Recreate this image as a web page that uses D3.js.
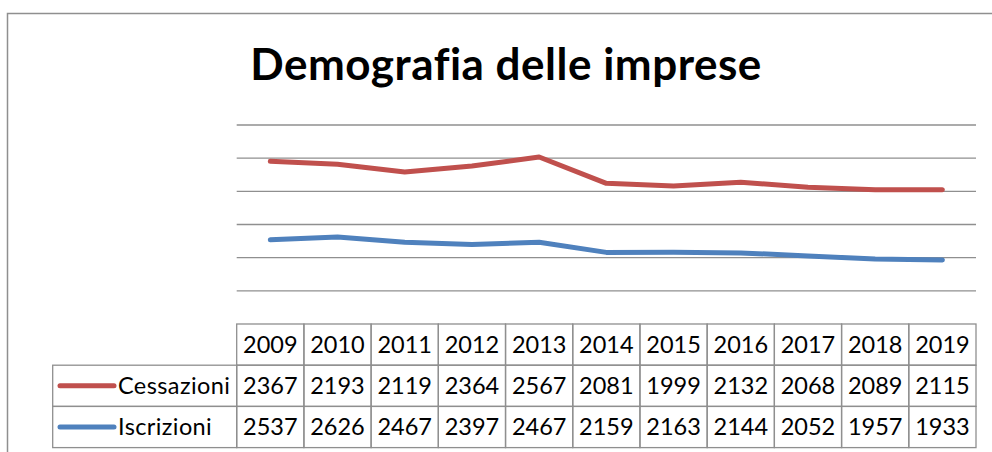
<!DOCTYPE html>
<meta charset="utf-8">
<style>
body { margin: 0; background: #fff; }
text { font-family: Lato, "Open Sans", sans-serif; fill: #000; font-variant-ligatures: none; }
</style>
<body>
<script src="https://cdnjs.cloudflare.com/ajax/libs/d3/7.8.5/d3.min.js"></script>
<script>

var years = ["2009", "2010", "2011", "2012", "2013", "2014", "2015", "2016", "2017", "2018", "2019"];
var cessazioni = [2367, 2193, 2119, 2364, 2567, 2081, 1999, 2132, 2068, 2089, 2115];
var iscrizioni = [2537, 2626, 2467, 2397, 2467, 2159, 2163, 2144, 2052, 1957, 1933];
var yTicks = [0, 1000, 2000, 3000, 4000, 5000, 6000];

var width = 992, height = 452;
var gridColor = "#8f8f8f";
var red = "#c0504d", blue = "#4f81bd";

var svg = d3.select("body").append("svg")
    .attr("width", width)
    .attr("height", height);

// chart frame (only top and left edges show in the picture)
svg.append("path")
    .attr("d", "M7.5,452V13.5H992")
    .attr("fill", "none")
    .attr("stroke", gridColor)
    .attr("stroke-width", 1.5);

// title
svg.append("text")
    .attr("x", 506)
    .attr("y", 80)
    .attr("text-anchor", "middle")
    .style("font-weight", "bold")
    .style("font-size", "44px")
    .style("letter-spacing", "0.5px")
    .text("Demografia delle imprese");

// scales
var x = d3.scaleBand()
    .domain(years)
    .range([236.7, 976]);
var y = d3.scaleLinear()
    .domain([0, 6000])
    .range([324, 125]);

// gridlines
svg.append("g")
  .selectAll("line")
    .data(yTicks.slice(1))
  .enter().append("line")
    .attr("x1", x.range()[0])
    .attr("x2", x.range()[1])
    .attr("y1", function(d) { return y(d); })
    .attr("y2", function(d) { return y(d); })
    .attr("stroke", gridColor)
    .attr("stroke-width", 1.4);

// stacked lines: Iscrizioni at the bottom, Cessazioni on top
var rows = years.map(function(yr, i) {
  return { year: yr, Iscrizioni: iscrizioni[i], Cessazioni: cessazioni[i] };
});
var stack = d3.stack().keys(["Iscrizioni", "Cessazioni"]);
var layers = stack(rows);
var colors = { Iscrizioni: blue, Cessazioni: red };

var line = d3.line()
    .x(function(d) { return x(d.data.year) + x.bandwidth() / 2; })
    .y(function(d) { return y(d[1]); });

svg.append("g")
  .selectAll("path")
    .data(layers)
  .enter().append("path")
    .attr("d", line)
    .attr("fill", "none")
    .attr("stroke", function(d) { return colors[d.key]; })
    .attr("stroke-width", 5)
    .attr("stroke-linecap", "round")
    .attr("stroke-linejoin", "round");

// data table
var tableTop = 324, rowH = 41.2, labelLeft = 52.7;
var tableRows = [
  { name: "Cessazioni", values: cessazioni, color: red },
  { name: "Iscrizioni", values: iscrizioni, color: blue }
];
var table = svg.append("g");
var fontSize = 23.5;
var baseOff = rowH / 2 + fontSize * 0.36;

// header row
table.selectAll(".hcell")
    .data(years)
  .enter().append("rect")
    .attr("class", "hcell")
    .attr("x", function(d) { return x(d); })
    .attr("y", tableTop)
    .attr("width", x.bandwidth())
    .attr("height", rowH)
    .attr("fill", "none")
    .attr("stroke", gridColor)
    .attr("stroke-width", 1.3);
table.selectAll(".htext")
    .data(years)
  .enter().append("text")
    .attr("class", "htext")
    .attr("x", function(d) { return x(d) + x.bandwidth() / 2; })
    .attr("y", tableTop + baseOff)
    .attr("text-anchor", "middle")
    .style("font-size", fontSize + "px")
    .text(function(d) { return d; });

// series rows
tableRows.forEach(function(r, ri) {
  var top = tableTop + rowH * (ri + 1);
  var g = table.append("g");
  g.append("rect")
      .attr("x", labelLeft)
      .attr("y", top)
      .attr("width", x.range()[0] - labelLeft)
      .attr("height", rowH)
      .attr("fill", "none")
      .attr("stroke", gridColor)
      .attr("stroke-width", 1.3);
  g.append("line")
      .attr("x1", 60).attr("x2", 114)
      .attr("y1", top + rowH / 2).attr("y2", top + rowH / 2)
      .attr("stroke", r.color)
      .attr("stroke-width", 5)
      .attr("stroke-linecap", "round");
  g.append("text")
      .attr("x", 118)
      .attr("y", top + baseOff)
      .style("font-size", fontSize + "px")
      .style("letter-spacing", "0.4px")
      .text(r.name);
  g.selectAll("rect.cell")
      .data(r.values)
    .enter().append("rect")
      .attr("class", "cell")
      .attr("x", function(d, i) { return x(years[i]); })
      .attr("y", top)
      .attr("width", x.bandwidth())
      .attr("height", rowH)
      .attr("fill", "none")
      .attr("stroke", gridColor)
      .attr("stroke-width", 1.3);
  g.selectAll("text.val")
      .data(r.values)
    .enter().append("text")
      .attr("class", "val")
      .attr("x", function(d, i) { return x(years[i]) + x.bandwidth() / 2; })
      .attr("y", top + baseOff)
      .attr("text-anchor", "middle")
      .style("font-size", fontSize + "px")
      .text(function(d) { return d; });
});

</script>
</body>
